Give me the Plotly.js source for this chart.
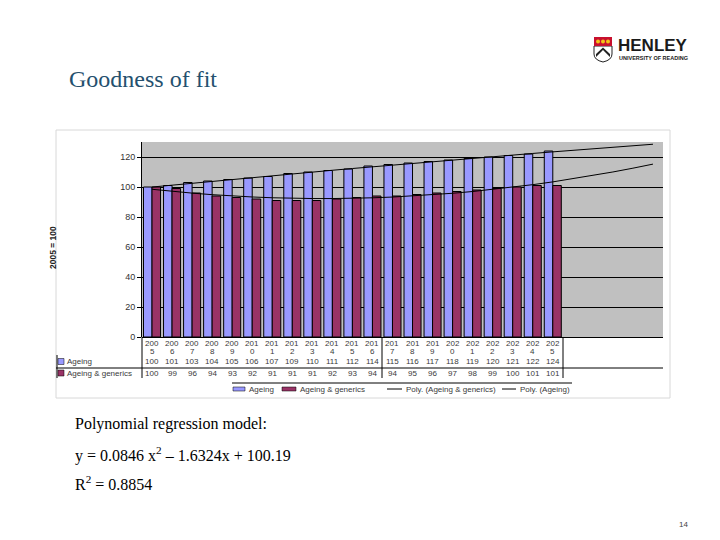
<!DOCTYPE html>
<html>
<head>
<meta charset="utf-8">
<script src="https://cdn.plot.ly/plotly-3.0.1.min.js"></script>
<style>html,body{margin:0;padding:0;background:#fff}#chart{width:720px;height:540px}</style>
</head>
<body>
<div id="chart"></div>
<script>
// ---- data ----
const years = [2005,2006,2007,2008,2009,2010,2011,2012,2013,2014,2015,2016,2017,2018,2019,2020,2021,2022,2023,2024,2025];
const ageing = [100,101,103,104,105,106,107,109,110,111,112,114,115,116,117,118,119,120,121,122,124];
const ageingGenerics = [100,99,96,94,93,92,91,91,91,92,93,94,94,95,96,97,98,99,100,101,101];
const seriesNames = ['Ageing','Ageing & generics','Poly. (Ageing & generics)','Poly. (Ageing)'];
const yTicks = [0,20,40,60,80,100,120];
const forwardPeriods = 5;

// ---- helpers ----
const W = 720, H = 540;
const px = v => v / W;
const py = v => 1 - v / H;

// quadratic least-squares trendline (as Excel's polynomial trendline, order 2)
function polyFit2(ys){
  const n = ys.length;
  let s = [0,0,0,0,0], t = [0,0,0];
  for(let i=0;i<n;i++){
    const x = i+1, y = ys[i];
    for(let k=0;k<5;k++) s[k] += Math.pow(x,k);
    for(let k=0;k<3;k++) t[k] += Math.pow(x,k)*y;
  }
  const A = [[s[0],s[1],s[2],t[0]],[s[1],s[2],s[3],t[1]],[s[2],s[3],s[4],t[2]]];
  for(let i=0;i<3;i++){
    for(let j=i+1;j<3;j++){
      const f = A[j][i]/A[i][i];
      for(let k=i;k<4;k++) A[j][k] -= f*A[i][k];
    }
  }
  const c = [0,0,0];
  for(let i=2;i>=0;i--){
    let v = A[i][3];
    for(let k=i+1;k<3;k++) v -= A[i][k]*c[k];
    c[i] = v/A[i][i];
  }
  return c;
}
const idx = years.map((_,i)=>i+1);
const trendX = [];
for(let i=1;i<=years.length+forwardPeriods;i++) trendX.push(i);
const cA = polyFit2(ageing), cG = polyFit2(ageingGenerics);
const trendA = trendX.map(x=>cA[0]+cA[1]*x+cA[2]*x*x);
const trendG = trendX.map(x=>cG[0]+cG[1]*x+cG[2]*x*x);

const blue = '#9999FF', maroon = '#993366';

const traces = [
  {type:'bar', x:idx, y:ageing, name:seriesNames[0], marker:{color:blue, line:{color:'#000', width:1}}, showlegend:false, hoverinfo:'skip'},
  {type:'bar', x:idx, y:ageingGenerics, name:seriesNames[1], marker:{color:maroon, line:{color:'#000', width:1}}, showlegend:false, hoverinfo:'skip'},
  {type:'scatter', mode:'lines', x:trendX, y:trendG, name:seriesNames[2], line:{color:'#000', width:1}, showlegend:false, hoverinfo:'skip'},
  {type:'scatter', mode:'lines', x:trendX, y:trendA, name:seriesNames[3], line:{color:'#000', width:1}, showlegend:false, hoverinfo:'skip'}
];

const tblFont = {family:'Arial, Liberation Sans, sans-serif', size:8, color:'#3a3a3a'};
const annotations = [];
const shapes = [];

// data table: years split over two lines, then values
years.forEach((yr,i)=>{
  const s = String(yr);
  annotations.push({x:i+1, xref:'x', y:py(343), yref:'paper', text:s.slice(0,3), showarrow:false, font:tblFont, xanchor:'center', yanchor:'middle'});
  annotations.push({x:i+1, xref:'x', y:py(351.5), yref:'paper', text:s.slice(3), showarrow:false, font:tblFont, xanchor:'center', yanchor:'middle'});
  annotations.push({x:i+1, xref:'x', y:py(361.5), yref:'paper', text:String(ageing[i]), showarrow:false, font:tblFont, xanchor:'center', yanchor:'middle'});
  annotations.push({x:i+1, xref:'x', y:py(373), yref:'paper', text:String(ageingGenerics[i]), showarrow:false, font:tblFont, xanchor:'center', yanchor:'middle'});
});
// row labels
annotations.push({x:px(65), y:py(361.5), xref:'paper', yref:'paper', text:seriesNames[0], showarrow:false, font:tblFont, xanchor:'left', yanchor:'middle'});
annotations.push({x:px(65), y:py(373), xref:'paper', yref:'paper', text:seriesNames[1], showarrow:false, font:tblFont, xanchor:'left', yanchor:'middle'});
shapes.push({type:'rect', xref:'paper', yref:'paper', x0:px(58), x1:px(64), y0:py(358.5), y1:py(364.5), fillcolor:blue, line:{color:'#000', width:0.5}});
shapes.push({type:'rect', xref:'paper', yref:'paper', x0:px(58), x1:px(64), y0:py(370), y1:py(376), fillcolor:maroon, line:{color:'#000', width:0.5}});
// table lines
shapes.push({type:'line', xref:'paper', yref:'paper', x0:px(56), x1:px(663), y0:py(368), y1:py(368), line:{color:'#000', width:1}});
shapes.push({type:'line', xref:'paper', yref:'paper', x0:px(142), x1:px(142), y0:py(337), y1:py(378), line:{color:'#000', width:1}});
shapes.push({type:'line', xref:'paper', yref:'paper', x0:px(382), x1:px(382), y0:py(337), y1:py(378), line:{color:'#000', width:1}});
shapes.push({type:'line', xref:'paper', yref:'paper', x0:px(563), x1:px(563), y0:py(337), y1:py(378), line:{color:'#000', width:1}});
shapes.push({type:'line', xref:'paper', yref:'paper', x0:px(57), x1:px(57), y0:py(355), y1:py(378), line:{color:'#000', width:1}});

// legend
shapes.push({type:'line', xref:'paper', yref:'paper', x0:px(232), x1:px(572), y0:py(383), y1:py(383), line:{color:'#000', width:1}});
shapes.push({type:'rect', xref:'paper', yref:'paper', x0:px(233), x1:px(245), y0:py(387), y1:py(391), fillcolor:blue, line:{color:'#000', width:0.5}});
annotations.push({x:px(247), y:py(389), xref:'paper', yref:'paper', text:seriesNames[0], showarrow:false, font:tblFont, xanchor:'left', yanchor:'middle'});
shapes.push({type:'rect', xref:'paper', yref:'paper', x0:px(282), x1:px(296), y0:py(387), y1:py(391), fillcolor:maroon, line:{color:'#000', width:0.5}});
annotations.push({x:px(298), y:py(389), xref:'paper', yref:'paper', text:seriesNames[1], showarrow:false, font:tblFont, xanchor:'left', yanchor:'middle'});
shapes.push({type:'line', xref:'paper', yref:'paper', x0:px(387), x1:px(402), y0:py(389), y1:py(389), line:{color:'#000', width:1}});
annotations.push({x:px(404), y:py(389), xref:'paper', yref:'paper', text:seriesNames[2], showarrow:false, font:tblFont, xanchor:'left', yanchor:'middle'});
shapes.push({type:'line', xref:'paper', yref:'paper', x0:px(502), x1:px(516), y0:py(389), y1:py(389), line:{color:'#000', width:1}});
annotations.push({x:px(518), y:py(389), xref:'paper', yref:'paper', text:seriesNames[3], showarrow:false, font:tblFont, xanchor:'left', yanchor:'middle'});

// chart frame
shapes.push({type:'rect', xref:'paper', yref:'paper', x0:px(56), x1:px(670), y0:py(130), y1:py(398), line:{color:'#d8d8d8', width:1}, layer:'below'});

// y axis title
annotations.push({x:px(46), y:py(248), xref:'paper', yref:'paper', text:'<b>2005 = 100</b>', textangle:-90, showarrow:false, font:{family:'Arial, Liberation Sans, sans-serif', size:8.5, color:'#222'}});

// slide title & text
const serif = 'Liberation Serif, DejaVu Serif, serif';
annotations.push({x:px(67), y:py(79), xref:'paper', yref:'paper', text:'Goodness of fit', showarrow:false, xanchor:'left', yanchor:'middle', font:{family:serif, size:24, color:'#24506e'}});
annotations.push({x:px(73), y:py(424), xref:'paper', yref:'paper', text:'Polynomial regression model:', showarrow:false, xanchor:'left', yanchor:'middle', font:{family:serif, size:16, color:'#000'}});
annotations.push({x:px(73), y:py(454), xref:'paper', yref:'paper', text:'y = 0.0846 x<sup>2</sup> – 1.6324x + 100.19', showarrow:false, xanchor:'left', yanchor:'middle', font:{family:serif, size:16, color:'#000'}});
annotations.push({x:px(73), y:py(483), xref:'paper', yref:'paper', text:'R<sup>2</sup> = 0.8854', showarrow:false, xanchor:'left', yanchor:'middle', font:{family:serif, size:16, color:'#000'}});
annotations.push({x:px(683), y:py(524), xref:'paper', yref:'paper', text:'14', showarrow:false, xanchor:'center', yanchor:'middle', font:{family:'Arial, Liberation Sans, sans-serif', size:8, color:'#444'}});

// logo
shapes.push({type:'path', xref:'paper', yref:'paper',
  path:`M ${px(594)} ${py(46)} L ${px(612)} ${py(46)} L ${px(612)} ${py(54)} Q ${px(612)} ${py(60)} ${px(603)} ${py(62)} Q ${px(594)} ${py(60)} ${px(594)} ${py(54)} Z`,
  fillcolor:'#fff', line:{color:'#222', width:1}});
shapes.push({type:'rect', xref:'paper', yref:'paper', x0:px(594), x1:px(612), y0:py(37), y1:py(46), fillcolor:'#c8102e', line:{color:'#c8102e', width:0}});
shapes.push({type:'path', xref:'paper', yref:'paper',
  path:`M ${px(596)} ${py(57)} L ${px(603)} ${py(50)} L ${px(610)} ${py(57)} L ${px(610)} ${py(54)} L ${px(603)} ${py(47.5)} L ${px(596)} ${py(54)} Z`,
  fillcolor:'#222', line:{width:0}});
[598, 603, 608].forEach(cx=>{
  shapes.push({type:'circle', xref:'paper', yref:'paper', x0:px(cx-2), x1:px(cx+2), y0:py(39.5), y1:py(43.5), fillcolor:'#f2c318', line:{width:0}});
});
annotations.push({x:px(616), y:py(45), xref:'paper', yref:'paper', text:'<b>HENLEY</b>', showarrow:false, xanchor:'left', yanchor:'middle', font:{family:'Liberation Sans, Arial, sans-serif', size:17, color:'#1a1a1a'}});
annotations.push({x:px(617), y:py(58), xref:'paper', yref:'paper', text:'<b>UNIVERSITY OF READING</b>', showarrow:false, xanchor:'left', yanchor:'middle', font:{family:'Liberation Sans, Arial, sans-serif', size:5.5, color:'#1a1a1a'}});

const layout = {
  width:W, height:H,
  margin:{l:0, r:0, t:0, b:0},
  paper_bgcolor:'#fff',
  plot_bgcolor:'#C0C0C0',
  barmode:'group', bargap:0.15, bargroupgap:0,
  showlegend:false,
  xaxis:{domain:[px(142), px(663)], range:[0.5, years.length+forwardPeriods+0.5], showticklabels:false, showgrid:false, zeroline:false, showline:false, ticks:''},
  yaxis:{domain:[py(337), py(142)], range:[0,130], tickvals:yTicks, ticktext:yTicks.map(String), showgrid:true, gridcolor:'#000', gridwidth:1, zeroline:true, zerolinecolor:'#000', zerolinewidth:1, showline:true, linecolor:'#000', linewidth:1, ticks:'outside', ticklen:4, tickcolor:'#000', tickfont:{family:'Arial, Liberation Sans, sans-serif', size:9, color:'#333'}},
  annotations:annotations,
  shapes:shapes
};

Plotly.newPlot('chart', traces, layout, {staticPlot:true, displayModeBar:false});
</script>
</body>
</html>
